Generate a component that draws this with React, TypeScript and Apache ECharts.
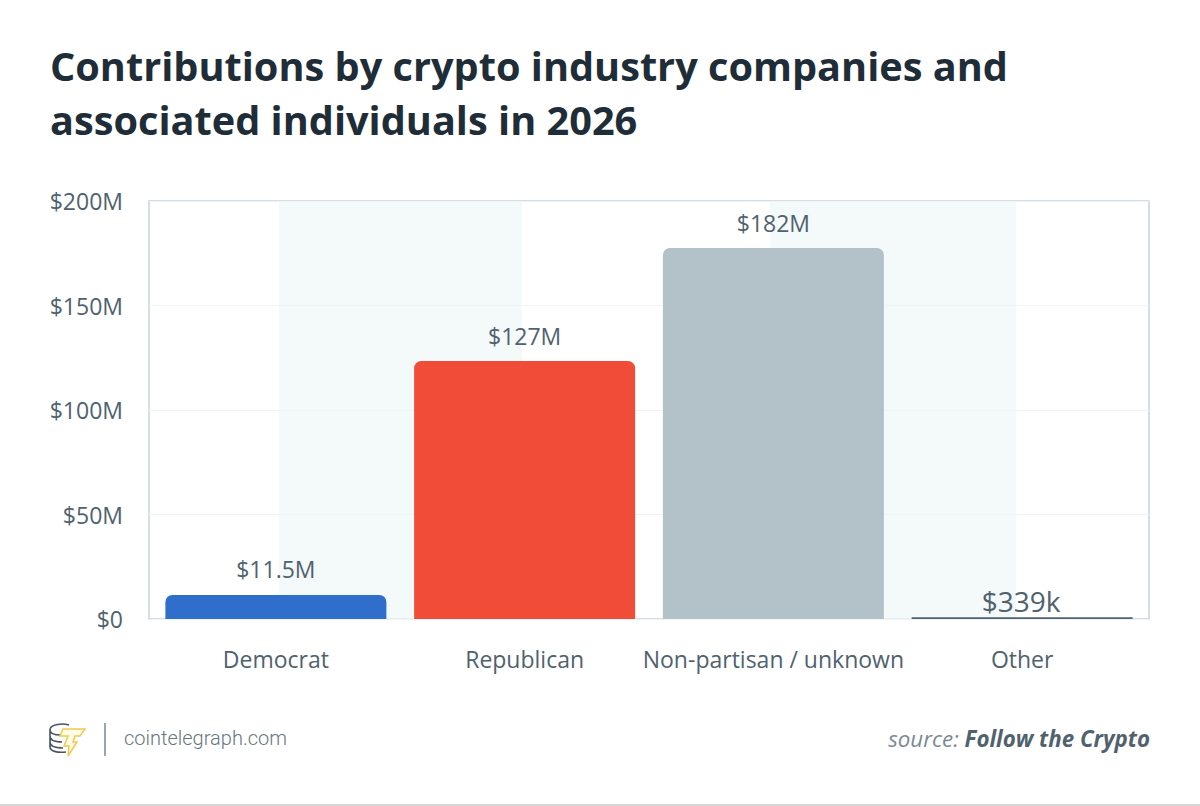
import React, { useEffect, useRef } from "react";
import * as echarts from "echarts";

const categories = ["Democrat", "Republican", "Non-partisan / unknown", "Other"];
const barValues = [11.5, 123.4, 177.5, 0.8];
const barLabels = ["$11.5M", "$127M", "$182M", "$339k"];
const barColors = ["#2f6fcb", "#f14c37", "#b3c2c9", "#50636f"];
const yTicks = [0, 50, 100, 150, 200];
const bandRanges = [[0.02, 0.992], [1.984, 2.968]];
const titleText = "Contributions by crypto industry companies and\nassociated individuals in 2026";

const FONT = "'Open Sans'";
const TEXT = "#50626e";

echarts.graphic.registerShape("ctCoins", echarts.graphic.extendPath(
  "M20 2C14 0 1 1 1 7C1 10 5 12 12 12M1 7V13C1 17 6 19 13 19M1 13V19C1 23 6 25 14 25M1 19V24C1 28 8 30 17 29",
  {}
));
echarts.graphic.registerShape("ctBolt", echarts.graphic.extendPath(
  "M14 6H36L31 13H26L24 19H28L19 33L20 23H15L19 13H11Z",
  {}
));

export default function App() {
  const ref = useRef<HTMLDivElement>(null);
  useEffect(() => {
    document.body.style.margin = "0";
    const chart = echarts.init(ref.current!, null, { renderer: "svg" });
    const yRange = { type: "value", min: yTicks[0], max: yTicks[yTicks.length - 1], interval: 50 };
    chart.setOption({
      animation: false,
      backgroundColor: "#ffffff",
      title: {
        text: titleText,
        left: 45,
        top: 34,
        textStyle: { fontFamily: FONT, fontWeight: 700, fontSize: 39.7, lineHeight: 54, color: "#1f2d38" },
      },
      grid: [
        { left: 149, top: 201, width: 1000, height: 418, show: true, borderColor: "#c9d3dd", borderWidth: 1.5, backgroundColor: "#ffffff" },
        { left: 151.5, top: 201, width: 995, height: 418 },
      ],
      xAxis: [
        { type: "value", gridIndex: 0, min: -0.5, max: 3.5, show: false },
        {
          type: "category",
          gridIndex: 1,
          data: categories,
          axisLine: { show: false },
          axisTick: { show: false },
          axisLabel: { interval: 0, fontFamily: FONT, fontSize: 23, color: TEXT, margin: 28 },
        },
      ],
      yAxis: [
        {
          ...yRange,
          gridIndex: 0,
          axisLine: { show: false },
          axisTick: { show: false },
          splitLine: { lineStyle: { color: "#eff3f6", width: 1 } },
          axisLabel: {
            fontFamily: FONT, fontSize: 23, color: TEXT, margin: 26,
            formatter: (v: number) => (v === 0 ? "$0" : `$${v}M`),
          },
        },
        { ...yRange, gridIndex: 1, show: false, splitLine: { show: false } },
      ],
      series: [
        {
          type: "line",
          xAxisIndex: 0,
          yAxisIndex: 0,
          silent: true,
          data: [],
          z: 0,
          markArea: {
            silent: true,
            itemStyle: { color: "rgba(238,246,248,0.65)" },
            data: bandRanges.map(([a, b]) => [{ xAxis: a }, { xAxis: b }]),
          },
        },
        {
          type: "bar",
          xAxisIndex: 1,
          yAxisIndex: 1,
          barWidth: 221,
          z: 3,
          data: barValues.map((v, i) => ({
            value: v,
            itemStyle: {
              color: barColors[i],
              borderRadius: i === 3 ? 0 : [7, 7, 0, 0],
            },
            label: {
              show: true,
              position: "top",
              distance: i === 3 ? 2 : 14,
              offset: i === 3 ? [-1, 0] : [0, 0],
              formatter: barLabels[i],
              fontFamily: FONT,
              fontSize: i === 3 ? 28 : 23,
              color: TEXT,
            },
          })),
        },
      ],
      graphic: [
        { type: "ctCoins", x: 49, y: 723, style: { fill: "none", stroke: "#4a5560", lineWidth: 1.6 } },
        { type: "ctBolt", x: 49, y: 723, style: { fill: "#fffbe8", stroke: "#eccb4f", lineWidth: 1.5 } },
        { type: "line", shape: { x1: 105, y1: 723, x2: 105, y2: 756 }, style: { stroke: "#7c8790", lineWidth: 1.5 } },
        {
          type: "text", x: 124, y: 738,
          style: {
            text: "cointelegraph.com", fontFamily: "Roboto", fontWeight: 300, fontSize: 20,
            fill: "#6a7680", verticalAlign: "middle",
          },
        },
        {
          type: "text", x: 1150, y: 738,
          style: {
            text: "{a|source: }{b|Follow the Crypto}",
            align: "right", verticalAlign: "middle",
            rich: {
              a: { fontFamily: FONT, fontStyle: "italic", fontSize: 22.3, fill: "#7b8a94" },
              b: { fontFamily: FONT, fontStyle: "italic", fontWeight: 700, fontSize: 22.3, fill: "#50626e" },
            },
          },
        },
        { type: "line", shape: { x1: 0, y1: 805, x2: 1200, y2: 805 }, style: { stroke: "#c9c9c9", lineWidth: 1.5 } },
      ],
    });
    return () => chart.dispose();
  }, []);
  return <div ref={ref} style={{ position: "absolute", left: 0, top: 0, width: 1200, height: 806 }} />;
}
